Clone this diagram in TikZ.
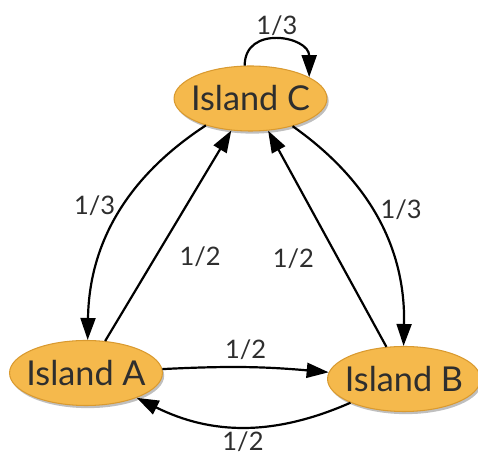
\documentclass[tikz,border=0pt]{standalone}
\usepackage{fontspec}
\setmainfont{Lato}
\usetikzlibrary{arrows.meta,shadows,shapes.geometric}

\definecolor{islandfill}{HTML}{F5B94C}
\definecolor{islanddraw}{HTML}{D99A30}
\definecolor{textgray}{HTML}{2E2E2E}

\tikzset{
  island/.style={ellipse, fill=islandfill, draw=islanddraw, line width=0.6pt,
    minimum width=87pt, minimum height=37pt, inner xsep=-15pt, inner ysep=-5pt,
    text=textgray, font=\fontsize{19.5}{23}\selectfont,
    drop shadow={shadow xshift=1pt, shadow yshift=-1.5pt, opacity=0.25, fill=black}},
  move/.style={line width=1.25pt, -{Triangle[length=12.5pt,width=8.5pt]}},
  prob/.style={text=textgray, font=\fontsize{14.5}{17}\selectfont, inner sep=1pt}
}

\begin{document}
\begin{tikzpicture}[x=0.02cm, y=0.02cm]
            \useasboundingbox (0,0) rectangle (478,453);

            \node[island] (C) at (250.5,354.5) {Island C};
            \node[island] (A) at (86,80) {Island A};
            \node[island] (B) at (404,74) {Island B};

            % staying on C
            \draw[move] (C.100) to[out=90, in=90, looseness=1.6]
                node[prob, above=1pt] {1/3} (C.20);

            % moves from C
            \draw[move] (C) to[bend right=28] node[prob, pos=0.45, left=3pt] {1/3} (A);
            \draw[move] (C) to[bend left=28] node[prob, pos=0.45, right=3pt] {1/3} (B);

            % moves to C
            \draw[move] (A) -- node[prob, pos=0.4, right=12pt] {1/2} (C);
            \draw[move] (B) -- node[prob, pos=0.41, left=12pt] {1/2} (C);

            % moves between A and B
            \draw[move] (A) to[bend left=4] node[prob, above=3pt] {1/2} (B);
            \draw[move] (B) to[bend left=25] node[prob, below=1pt] {1/2} (A);
\end{tikzpicture}
\end{document}
